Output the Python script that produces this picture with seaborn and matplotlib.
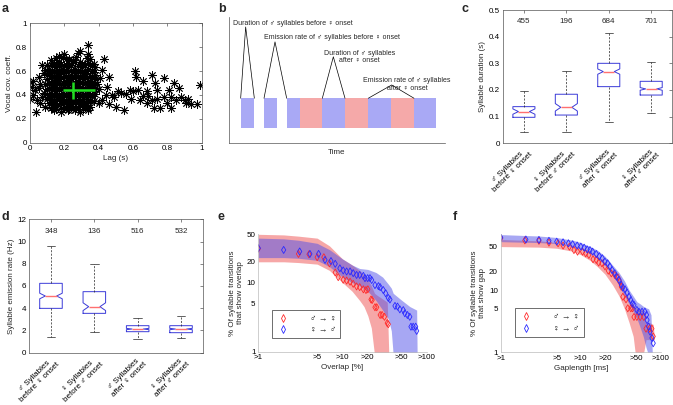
import matplotlib
matplotlib.use("Agg")
import matplotlib.pyplot as plt
from matplotlib.lines import Line2D
from matplotlib.ticker import FormatStrFormatter, NullLocator
import seaborn as sns

# ---------------- a: lag vs vocal covariance ----------------
lag_s = [
    0.15, 0.19, 0.23, 0.27, 0.33,
    0.12, 0.17, 0.21, 0.25, 0.29, 0.35,
    0.14, 0.18, 0.22, 0.26, 0.30, 0.34, 0.37,
    0.10, 0.13, 0.16, 0.20, 0.24, 0.28, 0.32, 0.36,
    0.11, 0.15, 0.19, 0.22, 0.26, 0.30, 0.34, 0.38,
    0.09, 0.13, 0.17, 0.21, 0.24, 0.28, 0.32, 0.36,
    0.11, 0.14, 0.18, 0.22, 0.26, 0.30, 0.33, 0.37,
    0.10, 0.13, 0.16, 0.20, 0.24, 0.27, 0.31, 0.35, 0.38,
    0.12, 0.15, 0.19, 0.22, 0.26, 0.29, 0.33, 0.36,
    0.10, 0.14, 0.17, 0.21, 0.24, 0.28, 0.31, 0.35, 0.38,
    0.11, 0.15, 0.19, 0.23, 0.26, 0.30, 0.34, 0.37,
    0.09, 0.13, 0.16, 0.20, 0.24, 0.27, 0.31, 0.35, 0.39,
    0.11, 0.14, 0.18, 0.22, 0.25, 0.29, 0.33, 0.36,
    0.10, 0.13, 0.17, 0.20, 0.24, 0.28, 0.31, 0.35, 0.38,
    0.12, 0.15, 0.19, 0.23, 0.26, 0.30, 0.34, 0.37,
    0.09, 0.13, 0.16, 0.20, 0.24, 0.27, 0.31, 0.35, 0.38,
    0.11, 0.15, 0.18, 0.22, 0.25, 0.29, 0.33, 0.36,
    0.10, 0.13, 0.17, 0.21, 0.24, 0.28, 0.31, 0.35,
    0.12, 0.15, 0.19, 0.23, 0.26, 0.30, 0.34, 0.37,
    0.11, 0.14, 0.18, 0.22, 0.25, 0.29, 0.33,
    0.13, 0.16, 0.20, 0.24, 0.28, 0.32, 0.35,
    0.12, 0.15, 0.19, 0.23, 0.27, 0.31, 0.34,
    0.14, 0.18, 0.22, 0.26, 0.29, 0.34,
    # left edge
    0.00, 0.01, 0.02, 0.03, 0.04, 0.00, 0.05, 0.07, 0.035, 0.06, 0.08, 0.07, 0.02, 0.05, 0.08, 0.06, 0.09,
    # top
    0.34, 0.28, 0.34, 0.20, 0.17, 0.29,
    # just right of the cloud
    0.43, 0.42, 0.41, 0.46, 0.44, 0.49, 0.46, 0.50, 0.51, 0.42, 0.40, 0.48, 0.40, 0.53, 0.45,
    # long lags
    0.61, 0.62, 0.66, 0.71, 0.73, 0.78, 0.74, 0.68, 0.56, 0.55, 0.59, 0.64, 0.68, 0.72, 0.76,
    0.80, 0.81, 0.84, 0.87, 0.85, 0.90, 0.91, 0.94, 0.97, 0.99, 0.82, 0.78, 0.71, 0.69, 0.63,
    0.60, 0.58, 0.66, 0.74, 0.82, 0.88, 0.92,
]
vocal_cov = [
    0.71, 0.72, 0.70, 0.72, 0.71,
    0.69, 0.68, 0.70, 0.69, 0.68, 0.70,
    0.67, 0.66, 0.67, 0.68, 0.66, 0.67, 0.66,
    0.65, 0.64, 0.65, 0.64, 0.65, 0.64, 0.65, 0.64,
    0.62, 0.63, 0.62, 0.63, 0.62, 0.63, 0.62, 0.63,
    0.61, 0.60, 0.61, 0.60, 0.61, 0.60, 0.61, 0.60,
    0.58, 0.59, 0.58, 0.59, 0.58, 0.59, 0.58, 0.59,
    0.57, 0.56, 0.57, 0.56, 0.57, 0.56, 0.57, 0.56, 0.57,
    0.54, 0.55, 0.54, 0.55, 0.54, 0.55, 0.54, 0.55,
    0.53, 0.52, 0.53, 0.52, 0.53, 0.52, 0.53, 0.52, 0.53,
    0.50, 0.51, 0.50, 0.51, 0.50, 0.51, 0.50, 0.51,
    0.49, 0.48, 0.49, 0.48, 0.49, 0.48, 0.49, 0.48, 0.49,
    0.46, 0.47, 0.46, 0.47, 0.46, 0.47, 0.46, 0.47,
    0.45, 0.44, 0.45, 0.44, 0.45, 0.44, 0.45, 0.44, 0.45,
    0.42, 0.43, 0.42, 0.43, 0.42, 0.43, 0.42, 0.43,
    0.41, 0.40, 0.41, 0.40, 0.41, 0.40, 0.41, 0.40, 0.41,
    0.38, 0.39, 0.38, 0.39, 0.38, 0.39, 0.38, 0.39,
    0.37, 0.36, 0.37, 0.36, 0.37, 0.36, 0.37, 0.36,
    0.34, 0.35, 0.34, 0.35, 0.34, 0.35, 0.34, 0.35,
    0.33, 0.32, 0.33, 0.32, 0.33, 0.32, 0.33,
    0.30, 0.31, 0.30, 0.31, 0.30, 0.31, 0.30,
    0.29, 0.28, 0.29, 0.28, 0.29, 0.28, 0.29,
    0.27, 0.26, 0.27, 0.27, 0.26, 0.27,
    0.51, 0.47, 0.52, 0.44, 0.36, 0.37, 0.55, 0.65, 0.26, 0.49, 0.42, 0.38, 0.40, 0.46, 0.58, 0.33, 0.30,
    0.82, 0.75, 0.74, 0.74, 0.73, 0.77,
    0.70, 0.61, 0.54, 0.55, 0.40, 0.38, 0.32, 0.30, 0.43, 0.36, 0.45, 0.40, 0.33, 0.42, 0.47,
    0.60, 0.55, 0.52, 0.57, 0.50, 0.54, 0.44, 0.43, 0.41, 0.27, 0.37, 0.36, 0.33, 0.29, 0.29,
    0.33, 0.44, 0.50, 0.46, 0.36, 0.36, 0.33, 0.32, 0.32, 0.48, 0.29, 0.38, 0.36, 0.39, 0.44,
    0.43, 0.44, 0.39, 0.37, 0.38, 0.38, 0.37,
]
lag_mean, cov_mean = 0.25, 0.44
lag_err = [[0.06], [0.13]]
cov_err = [[0.07], [0.07]]

# ---------------- b: schematic ----------------
seg_start = [35, 105, 173, 213, 280, 348, 418, 485, 555]
seg_end = [76, 143, 213, 280, 348, 418, 485, 555, 620]
seg_sex = ["m", "m", "m", "f", "m", "f", "m", "f", "m"]

# ---------------- c / d: box plots ----------------
group_labels = ["\u2642 Syllables\nbefore \u2640 onset", "\u2640 Syllables\nbefore \u2642 onset",
                "\u2642 Syllables\nafter \u2640 onset", "\u2640 Syllables\nafter \u2642 onset"]

dur_lo = [0.044, 0.044, 0.081, 0.1125]
dur_q1 = [0.0975, 0.106, 0.2125, 0.181]
dur_med = [0.119, 0.135, 0.269, 0.204]
dur_q3 = [0.1375, 0.184, 0.300, 0.2325]
dur_hi = [0.196, 0.271, 0.4125, 0.306]
dur_notch = [0.010, 0.014, 0.010, 0.005]
dur_n = [455, 196, 684, 701]

rate_lo = [1.44, 1.89, 1.20, 1.32]
rate_q1 = [3.99, 3.54, 1.89, 1.80]
rate_med = [5.10, 4.14, 2.13, 2.13]
rate_q3 = [6.24, 5.49, 2.43, 2.43]
rate_hi = [9.63, 7.95, 3.15, 3.27]
rate_notch = [0.25, 0.35, 0.06, 0.06]
rate_n = [348, 136, 516, 532]

# ---------------- e: overlap ----------------
e_m2f_x = [1, 3, 4, 5, 6, 7, 8.2, 8.9, 10.2, 11.2, 12.3, 13.4, 14.7, 16, 17.7, 19, 20, 21.8, 22.5,
           24.3, 25.5, 28, 29.5, 31.5, 34, 35]
e_m2f_y = [31, 26, 25.7, 23.3, 23.3, 19, 14, 12, 11, 10.7, 10.3, 9.6, 8.8, 8.6, 8, 7.8, 8, 5.7, 5.6,
           4.4, 4.4, 3.4, 3.4, 3.2, 2.6, 2.5]
e_f2m_x = [1, 2, 3.1, 4.1, 5.2, 6.2, 7.3, 8.2, 9.3, 10.2, 11.2, 12.3, 13.4, 14.7, 16, 17.7, 18.5, 19.9,
           21.2, 22.2, 24.3, 26.7, 28, 30.5, 32.6, 35, 36.6, 42, 45, 48, 52.7, 55, 59, 63, 65, 69, 74, 76]
e_f2m_y = [31.5, 29.7, 28.2, 26, 26, 21.3, 20.5, 18.7, 16.1, 15, 14.5, 14.5, 13.7, 12.9, 12.9, 12.5,
           11.6, 11.6, 11.6, 10.9, 9.2, 8.9, 8.6, 7.8, 7, 6, 5.7, 4.6, 4.5, 4.1, 4, 3.6, 3.4, 3.2, 2.3,
           2.3, 2.3, 2.0]
e_m2f_band_x = [1, 2, 3, 5, 7, 10, 13, 16, 18, 20, 22, 24, 26, 30, 34, 35.5]
e_m2f_band_lo = [20, 20, 19.5, 18.5, 15, 10, 7.5, 5.5, 4.5, 3.3, 2.2, 0.9, 0.9, 0.9, 0.9, 0.9]
e_m2f_band_hi = [50, 49, 47, 44, 34, 22, 18, 15, 13, 11, 9, 7, 6.5, 5.8, 5.2, 0.9]
e_f2m_band_x = [1, 2, 3, 5, 7, 10, 13, 16, 20, 25, 30, 35, 38, 40, 50, 63, 76, 77]
e_f2m_band_lo = [23, 23, 22.5, 21, 17, 12, 10, 9, 7.5, 5.5, 4, 3, 2, 0.9, 0.9, 0.9, 0.9, 0.9]
e_f2m_band_hi = [44, 43, 41, 37, 30, 22, 18, 16, 15.5, 14, 12, 9.5, 8.3, 7, 5.6, 4.5, 4.0, 0.9]

# ---------------- f: gaps ----------------
f_m2f_x = [1, 2, 3, 4, 5.2, 6, 7.2, 8.2, 9.1, 10.5, 11.5, 12.6, 14.2, 15.6, 16.7, 18.3, 20, 22, 24,
           26.5, 29, 30.5, 32, 33.4, 36.6, 38.5, 42, 44, 46, 50, 55, 61, 65, 72, 77, 80]
f_m2f_y = [68, 63, 62, 58, 56.5, 52, 50, 44, 41.5, 41.5, 39, 36.7, 31.3, 30.5, 27.7, 27, 24, 20.5,
           18.6, 17.5, 16, 13.7, 11.3, 7.8, 7.1, 5.1, 5.1, 5.1, 3.7, 3.7, 3.7, 3.7, 2.4, 2.4, 2.4, 1.8]
f_f2m_x = [1, 2.06, 3, 4, 5, 6, 7, 7.9, 9, 10, 11, 12, 13, 14, 15.6, 17, 18.5, 20, 21.6, 23, 24.6,
           26.5, 27.8, 30, 32, 33.4, 35.6, 37.7, 40, 42, 44, 46, 50, 53, 58, 63, 66, 67, 70, 73, 77, 80]
f_f2m_y = [70, 65, 64, 62, 60, 58.6, 56.5, 54.6, 52, 50, 48, 45, 44, 41.5, 38, 35, 32.5, 28.7, 27,
           24, 21, 18.6, 16.5, 14.5, 12.1, 11, 10.3, 9.1, 7.8, 6.9, 6.1, 5.8, 4.8, 4.5, 4.5, 4.5, 4.0,
           3.3, 2.6, 2.15, 1.7, 1.4]
f_m2f_band_x = [1, 3, 5, 8, 10, 13, 16, 20, 25, 30, 35, 40, 45, 48, 50, 55, 60, 65, 72, 80, 83]
f_m2f_band_lo = [50, 49, 47, 42, 37, 30, 24, 18, 12, 8, 5, 3, 1.8, 0.9, 0.9, 0.9, 0.9, 1.6, 1.6, 1.6, 1.6]
f_m2f_band_hi = [65, 62, 58, 52, 48, 42, 35, 27, 20, 15, 10, 7, 5.5, 5.2, 5.2, 5, 4.8, 3, 3, 2.8, 1.6]
f_f2m_band_x = [1, 3, 5, 8, 10, 13, 16, 20, 25, 30, 35, 40, 45, 50, 55, 60, 65, 70, 75, 78]
f_f2m_band_lo = [60, 58, 56, 50, 46, 40, 33, 25, 17, 12, 8, 6, 4.5, 3.5, 2.5, 1.8, 1.2, 0.9, 0.9, 0.9]
f_f2m_band_hi = [78, 74, 70, 63, 58, 50, 44, 35, 25, 19, 14, 10, 8, 6.5, 6, 5.5, 5.2, 5, 4, 0.9]

log_ticks = [1, 5, 10, 20, 50, 100]
log_ticklabels = [">1", ">5", ">10", ">20", ">50", ">100"]

sns.set_theme(style="white")
plt.rcParams["font.family"] = ["Liberation Sans", "DejaVu Sans"]
plt.rcParams.update({
    "font.size": 5.8,
    "axes.linewidth": 0.5,
    "axes.edgecolor": "#555555",
    "xtick.direction": "in",
    "ytick.direction": "in",
    "xtick.major.size": 2,
    "ytick.major.size": 2,
    "xtick.major.width": 0.5,
    "ytick.major.width": 0.5,
    "xtick.color": "#555555",
    "ytick.color": "#555555",
    "xtick.labelcolor": "black",
    "ytick.labelcolor": "black",
    "xtick.major.pad": 2,
    "ytick.major.pad": 2,
    "xtick.labelsize": 5.8,
    "ytick.labelsize": 5.8,
    "axes.labelsize": 5.8,
    "axes.labelpad": 2,
})

W, H = 673, 405
fig = plt.figure(figsize=(W / 100, H / 100), dpi=100)


def px_axes(l, t, r, b):
    return fig.add_axes([l / W, 1 - b / H, (r - l) / W, (b - t) / H])


RED, BLUE = "#ff2a2a", "#2a2aff"
BOX_BLUE = "#3a3ad8"
MALE_C, FEMALE_C = "#a9a9f5", "#f5a9a9"

# ---- a ----
ax = px_axes(30, 23.3, 201.7, 142.7)
sns.scatterplot(x=lag_s, y=vocal_cov, marker=(8, 2, 0), s=32, color="black", linewidth=0.6, ax=ax)
ax.errorbar(lag_mean, cov_mean, xerr=lag_err, yerr=cov_err, fmt="none", ecolor="#22dd22", elinewidth=1.8, capsize=0)
ax.set_xlim(0, 1)
ax.set_ylim(0, 1)
ax.set_xticks([0, 0.2, 0.4, 0.6, 0.8, 1])
ax.set_yticks([0, 0.2, 0.4, 0.6, 0.8, 1])
ax.xaxis.set_major_formatter(FormatStrFormatter("%g"))
ax.yaxis.set_major_formatter(FormatStrFormatter("%g"))
ax.tick_params(top=True, right=True)
ax.set_xlabel("Lag (s)")
ax.set_ylabel("Vocal cov. coeff.")

# ---- b ----
ax = px_axes(229, 17, 445, 143)
widths = [e - s for s, e in zip(seg_start, seg_end)]
cols = [MALE_C if s == "m" else FEMALE_C for s in seg_sex]
ax.bar(seg_start, 90, width=widths, bottom=45, align="edge", color=cols, linewidth=0)
ax.set_xlim(0, 648)
ax.set_ylim(0, 380)
ax.set_xticks([])
ax.set_yticks([])
for side in ["top", "right"]:
    ax.spines[side].set_visible(False)
ax.set_xlabel("Time", labelpad=4)
top = 135
annots = [
    ("Duration of \u2642 syllables before \u2640 onset", 13, 360, "left", (50, 350), (seg_start[0], seg_end[0])),
    ("Emission rate of \u2642 syllables before \u2640 onset", 106, 318, "left", (138, 305), (seg_start[1], seg_start[2])),
    ("Duration of \u2642 syllables\nafter \u2640 onset", 392, 260, "center", (313, 260), (seg_start[4], seg_end[4])),
    ("Emission rate of \u2642 syllables\nafter \u2640 onset", 534, 176, "center", (488, 175), (seg_start[6], seg_end[7])),
]
for txt, tx, ty, ha, (px, py), (x0, x1) in annots:
    ax.text(tx, ty, txt, ha=ha, va="center", fontsize=5.0, linespacing=1.1, clip_on=False)
    ax.plot([x0, px, x1], [top, py, top], color="black", lw=0.5, clip_on=False)

# ---- c & d ----
def draw_boxes(ax, lo, q1, med, q3, hi, notch, ns, ylim, yticks, count_y, ylabel):
    stats = [dict(med=m, q1=a, q3=b, whislo=l, whishi=h, cilo=m - n, cihi=m + n, fliers=[])
             for l, a, m, b, h, n in zip(lo, q1, med, q3, hi, notch)]
    ax.bxp(stats, positions=[1, 2, 3, 4], widths=0.52, shownotches=True, showfliers=False,
           capwidths=0.2,
           boxprops=dict(color=BOX_BLUE, lw=0.7),
           medianprops=dict(color="#ff7070", lw=1.0),
           whiskerprops=dict(color="#222222", lw=0.5, ls=(0, (3, 2))),
           capprops=dict(color="#222222", lw=0.5))
    for pos, n in zip([1, 2, 3, 4], ns):
        ax.text(pos, count_y, str(n), ha="center", va="center", fontsize=5.8)
    ax.set_xlim(0.5, 4.5)
    ax.set_ylim(*ylim)
    ax.set_yticks(yticks)
    ax.yaxis.set_major_formatter(FormatStrFormatter("%g"))
    ax.set_xticks([1, 2, 3, 4])
    ax.set_xticklabels(group_labels, rotation=45, ha="right", va="top", rotation_mode="anchor",
                       multialignment="center", linespacing=1.1)
    ax.tick_params(top=True, right=True)
    ax.set_ylabel(ylabel)


ax = px_axes(502.7, 10, 672.4, 143.3)
draw_boxes(ax, dur_lo, dur_q1, dur_med, dur_q3, dur_hi, dur_notch, dur_n, (0, 0.5),
           [0, 0.1, 0.2, 0.3, 0.4, 0.5], 0.456, "Syllable duration (s)")

ax = px_axes(29.3, 219.3, 202.7, 352.7)
draw_boxes(ax, rate_lo, rate_q1, rate_med, rate_q3, rate_hi, rate_notch, rate_n, (0, 12),
           [0, 2, 4, 6, 8, 10, 12], 10.9, "Syllable emission rate (Hz)")

# ---- e & f ----
def draw_tail(ax, bands, points, ylim, yticks, xlabel, ylabel, leg_anchor):
    (mx, mlo, mhi), (fx, flo, fhi) = bands
    ax.fill_between(mx, mlo, mhi, color="#f06060", alpha=0.55, linewidth=0)
    ax.fill_between(fx, flo, fhi, color="#5050e8", alpha=0.5, linewidth=0)
    (pmx, pmy), (pfx, pfy) = points
    sns.scatterplot(x=pmx, y=pmy, marker="d", s=13, facecolor="none", edgecolor=RED, linewidth=0.6, ax=ax)
    sns.scatterplot(x=pfx, y=pfy, marker="d", s=13, facecolor="none", edgecolor=BLUE, linewidth=0.6, ax=ax)
    ax.set_xscale("log")
    ax.set_yscale("log")
    ax.set_xlim(1, 100)
    ax.set_ylim(*ylim)
    ax.set_xticks(log_ticks)
    ax.set_xticklabels(log_ticklabels)
    ax.set_yticks(yticks)
    ax.set_yticklabels([str(t) for t in yticks])
    ax.xaxis.set_minor_locator(NullLocator())
    ax.yaxis.set_minor_locator(NullLocator())
    for side in ["top", "right"]:
        ax.spines[side].set_visible(False)
    for side in ["left", "bottom"]:
        ax.spines[side].set_color("#bbbbbb")
    ax.tick_params(color="#bbbbbb")
    ax.set_xlabel(xlabel)
    ax.set_ylabel(ylabel, linespacing=1.2)
    handles = [Line2D([], [], marker="d", ls="none", mfc="none", mec=RED, ms=3.8, mew=0.6),
               Line2D([], [], marker="d", ls="none", mfc="none", mec=BLUE, ms=3.8, mew=0.6)]
    leg = ax.legend(handles, ["\u2642 \u2192 \u2640", "\u2640 \u2192 \u2642"], loc="lower left",
                    bbox_to_anchor=leg_anchor, borderaxespad=0, fontsize=6.2, frameon=True,
                    fancybox=False, handlelength=1.5, handletextpad=2.4, borderpad=0.5,
                    labelspacing=0.25, edgecolor="black")
    leg.get_frame().set_linewidth(0.5)


ax = px_axes(258.3, 234.3, 426.7, 351.7)
draw_tail(ax, [(e_m2f_band_x, e_m2f_band_lo, e_m2f_band_hi), (e_f2m_band_x, e_f2m_band_lo, e_f2m_band_hi)],
          [(e_m2f_x, e_m2f_y), (e_f2m_x, e_f2m_y)], (1, 50), [1, 5, 10, 20, 50],
          "Overlap [%]", "% Of syllable transitions\nthat show overlap", (0.08, 0.114))

ax = px_axes(500.7, 233.9, 661, 352.3)
draw_tail(ax, [(f_m2f_band_x, f_m2f_band_lo, f_m2f_band_hi), (f_f2m_band_x, f_f2m_band_lo, f_f2m_band_hi)],
          [(f_m2f_x, f_m2f_y), (f_f2m_x, f_f2m_y)], (1, 80), [1, 5, 10, 20, 50],
          "Gaplength [ms]", "% Of syllable transitions\nthat show gap", (0.09, 0.13))

# panel letters
for letter, x, y in [("a", 2, 3), ("b", 218, 3), ("c", 462, 3), ("d", 2, 211), ("e", 218, 211), ("f", 453, 211)]:
    fig.text(x / W, 1 - y / H, letter, fontsize=9, fontweight="bold", va="top", ha="left")

fig.savefig("out.png", dpi=100)
